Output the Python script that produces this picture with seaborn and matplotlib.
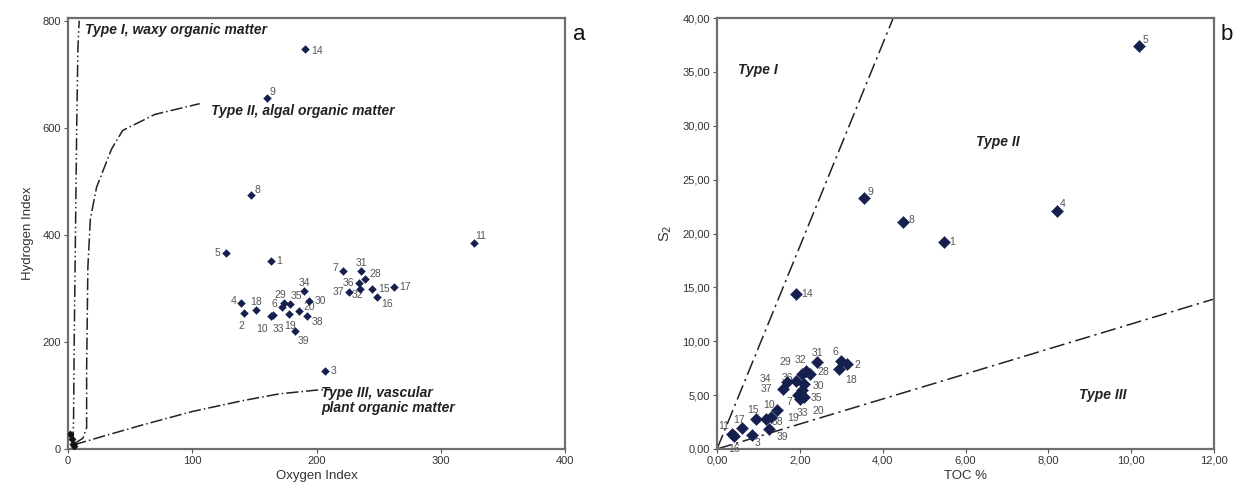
import matplotlib
matplotlib.use("Agg")
import matplotlib.pyplot as plt
import seaborn as sns
import numpy as np
import pandas as pd
from matplotlib.ticker import FuncFormatter

# ---------------- data: panel a (Oxygen index vs Hydrogen index) ----------------
a_ids = ["14", "9", "8", "5", "1", "11", "3", "4", "2", "18", "10", "33", "6", "29",
         "35", "19", "20", "30", "34", "38", "39", "7", "31", "28", "36", "37", "32",
         "15", "16", "17"]
a_oi = [191, 160, 147, 127, 163, 327, 207, 139, 142, 151, 163, 165, 172, 174,
        179, 178, 186, 194, 190, 192, 183, 221, 236, 239, 234, 226, 235,
        245, 249, 262]
a_hi = [748, 656, 474, 367, 351, 384, 145, 272, 254, 259, 248, 250, 265, 272,
        270, 253, 257, 276, 295, 248, 220, 332, 332, 317, 310, 293, 298,
        298, 283, 302]
a_origin_oi = [2, 3, 4, 5]
a_origin_hi = [28, 18, 10, 5]

# boundary curves (panel a)
t1_oi = [4, 4.5, 5, 6, 7, 8, 9]
t1_hi = [10, 60, 200, 400, 600, 750, 800]
t2_oi = [5, 12, 15, 15, 16, 18, 23, 35, 44, 70, 106]
t2_hi = [10, 20, 40, 150, 340, 430, 489, 560, 595, 625, 645]
t3_oi = [5, 30, 60, 100, 140, 170, 200, 212]
t3_hi = [8, 25, 45, 70, 90, 103, 110, 111]

# ---------------- data: panel b (TOC vs S2) ----------------
b_ids = ["5", "9", "8", "1", "4", "14", "6", "2", "18", "31", "29", "32", "28",
         "34", "36", "37", "30", "7", "35", "33", "20", "10", "15", "38", "19",
         "17", "11", "16", "3", "39"]
b_toc = [10.20, 3.56, 4.48, 5.47, 8.22, 1.91, 3.00, 3.15, 2.95, 2.42, 2.05, 2.15, 2.25,
         1.70, 1.90, 1.60, 2.10, 1.95, 2.05, 2.00, 2.10, 1.45, 0.94, 1.18, 1.30,
         0.60, 0.36, 0.42, 0.85, 1.25]
b_s2 = [37.4, 23.3, 21.1, 19.2, 22.1, 14.4, 8.2, 7.9, 7.4, 8.1, 7.0, 7.2, 7.0,
        6.2, 6.3, 5.6, 6.0, 5.0, 5.5, 4.6, 4.8, 3.6, 2.8, 2.8, 3.0,
        1.95, 1.4, 1.2, 1.3, 1.9]
b_type1_slope = 9.4
b_type3_slope = 1.16

xt_a = [0, 100, 200, 300, 400]
yt_a = [0, 200, 400, 600, 800]
xt_b = [0, 2, 4, 6, 8, 10, 12]
yt_b = [0, 5, 10, 15, 20, 25, 30, 35, 40]

# label offsets (points)
a_off = {"5": (-4, 0, "right"), "4": (-3, 2, "right"), "2": (-2, -9, "center"),
         "10": (-6, -9, "center"), "33": (4, -10, "center"), "19": (1, -9, "center"),
         "39": (2, -7, "left"), "7": (-3, 2, "right"), "36": (-3, 0, "right"),
         "37": (-3, 0, "right"), "29": (-3, 6, "center"), "35": (4, 6, "center"),
         "34": (0, 6, "center"), "31": (0, 6, "center"), "28": (3, 4, "left"),
         "9": (2, 4, "left"), "8": (3, 4, "left"), "11": (1, 5, "left"),
         "18": (0, 6, "center"), "6": (-5, 2, "center"), "20": (3, 3, "left"),
         "38": (4, -4, "left"), "16": (3, -5, "left"), "32": (-2, -4, "center"),
         "14": (4, -2, "left")}
b_off = {"5": (2, 4, "left"), "9": (2, 4, "left"), "8": (4, 1, "left"), "1": (4, 0, "left"),
         "4": (2, 5, "left"), "14": (4, 0, "left"), "6": (-4, 6, "center"),
         "2": (5, -1, "left"), "18": (4, -8, "left"), "31": (0, 6, "center"),
         "29": (-12, 8, "center"), "32": (-4, 8, "center"), "28": (5, 1, "left"),
         "34": (-16, 2, "center"), "36": (-6, 2, "center"), "37": (-8, 0, "right"),
         "30": (6, -1, "left"), "7": (-6, -5, "center"), "35": (6, -6, "left"),
         "33": (2, -10, "center"), "20": (10, -10, "center"), "10": (-6, 4, "center"),
         "15": (-2, 6, "center"), "38": (4, -2, "left"), "19": (12, -1, "left"),
         "17": (-2, 6, "center"), "11": (-6, 6, "center"), "16": (0, -9, "center"),
         "3": (4, -6, "center"), "39": (6, -6, "left")}

navy = "#16204e"
frame = "#6e6e6e"
txt = "#333333"

sns.set_theme(style="white")
plt.rcParams["font.family"] = ["Liberation Sans", "DejaVu Sans"]

fig = plt.figure(figsize=(12.43, 5.04), dpi=100)
ax1 = fig.add_axes([68 / 1243, 1 - 449 / 504, (565 - 68) / 1243, (449 - 18) / 504])
ax2 = fig.add_axes([717 / 1243, 1 - 449 / 504, (1214 - 717) / 1243, (449 - 18) / 504])

# ---------- panel a ----------
dfa = pd.DataFrame({"oi": a_oi, "hi": a_hi, "id": a_ids})
sns.lineplot(x=t1_oi, y=t1_hi, ax=ax1, color="#222222", lw=1.1, sort=False,
             estimator=None, dashes=False, linestyle=(0, (8, 2, 1, 2, 1, 2)))
sns.lineplot(x=t2_oi, y=t2_hi, ax=ax1, color="#222222", lw=1.1, sort=False,
             estimator=None, linestyle=(0, (8, 2, 1, 2)))
sns.lineplot(x=t3_oi, y=t3_hi, ax=ax1, color="#222222", lw=1.1, sort=False,
             estimator=None, linestyle=(0, (8, 2, 1, 2)))
sns.scatterplot(data=dfa, x="oi", y="hi", ax=ax1, marker="D", s=16, color=navy,
                edgecolor=navy, linewidth=0.3, zorder=5)
sns.scatterplot(x=a_origin_oi, y=a_origin_hi, ax=ax1, marker="D", s=14, color="#111111",
                edgecolor="#111111", zorder=5)
for _, r in dfa.iterrows():
    dx, dy, ha = a_off.get(r["id"], (4, 0, "left"))
    ax1.annotate(r["id"], (r["oi"], r["hi"]), xytext=(dx, dy), textcoords="offset points",
                 ha=ha, va="center", fontsize=7.5, color="#555555")
ax1.set_xlim(0, 398)
ax1.set_ylim(0, 805)
ax1.set_xticks(xt_a)
ax1.set_yticks(yt_a)
ax1.set_xlabel("Oxygen Index", fontsize=9.5, color=txt, labelpad=3)
ax1.set_ylabel("Hydrogen Index", fontsize=9.5, color=txt, labelpad=6)
ax1.text(14, 782, "Type I, waxy organic matter", fontsize=10, fontweight="bold",
         fontstyle="italic", color="#222222", va="center")
ax1.text(115, 632, "Type II, algal organic matter", fontsize=10, fontweight="bold",
         fontstyle="italic", color="#222222", va="center")
ax1.text(204, 90, "Type III, vascular\nplant organic matter", fontsize=10,
         fontweight="bold", fontstyle="italic", color="#222222", va="center",
         linespacing=1.1)
fig.text(573 / 1243, 1 - 35 / 504, "a", fontsize=16, color="#111111", va="center")

# ---------- panel b ----------
dfb = pd.DataFrame({"toc": b_toc, "s2": b_s2, "id": b_ids})
xl = np.array([0, 12.5])
sns.lineplot(x=xl, y=b_type1_slope * xl, ax=ax2, color="#222222", lw=1.1,
             linestyle=(0, (10, 3, 1.5, 3)))
sns.lineplot(x=xl, y=b_type3_slope * xl, ax=ax2, color="#222222", lw=1.1,
             linestyle=(0, (10, 3, 1.5, 3)))
sns.scatterplot(data=dfb, x="toc", y="s2", ax=ax2, marker="D", s=38, color=navy,
                edgecolor=navy, linewidth=0.3, zorder=5)
for _, r in dfb.iterrows():
    dx, dy, ha = b_off.get(r["id"], (4, 0, "left"))
    ax2.annotate(r["id"], (r["toc"], r["s2"]), xytext=(dx, dy), textcoords="offset points",
                 ha=ha, va="center", fontsize=7.5, color="#555555")
ax2.set_xlim(0, 12)
ax2.set_ylim(0, 40)
ax2.set_xticks(xt_b)
ax2.set_yticks(yt_b)
comma = FuncFormatter(lambda v, p: f"{v:.2f}".replace(".", ","))
ax2.xaxis.set_major_formatter(comma)
ax2.yaxis.set_major_formatter(comma)
ax2.set_xlabel("TOC %", fontsize=9.5, color=txt, labelpad=3)
ax2.set_ylabel("S$_2$", fontsize=10.5, color=txt, labelpad=6)
ax2.text(0.5, 35.2, "Type I", fontsize=10, fontweight="bold", fontstyle="italic",
         color="#222222", va="center")
ax2.text(6.25, 28.5, "Type II", fontsize=10, fontweight="bold", fontstyle="italic",
         color="#222222", va="center")
ax2.text(8.75, 5.0, "Type III", fontsize=10, fontweight="bold", fontstyle="italic",
         color="#222222", va="center")
fig.text(1221 / 1243, 1 - 35 / 504, "b", fontsize=16, color="#111111", va="center")

for ax in (ax1, ax2):
    for sp in ax.spines.values():
        sp.set_visible(True)
        sp.set_color(frame)
        sp.set_linewidth(1.6)
    ax.tick_params(axis="both", which="major", direction="out", length=3, width=0.8,
                   color="#555555", labelsize=8, labelcolor=txt, bottom=True, left=True,
                   pad=2)

fig.savefig("out.png", dpi=100, facecolor="white")
